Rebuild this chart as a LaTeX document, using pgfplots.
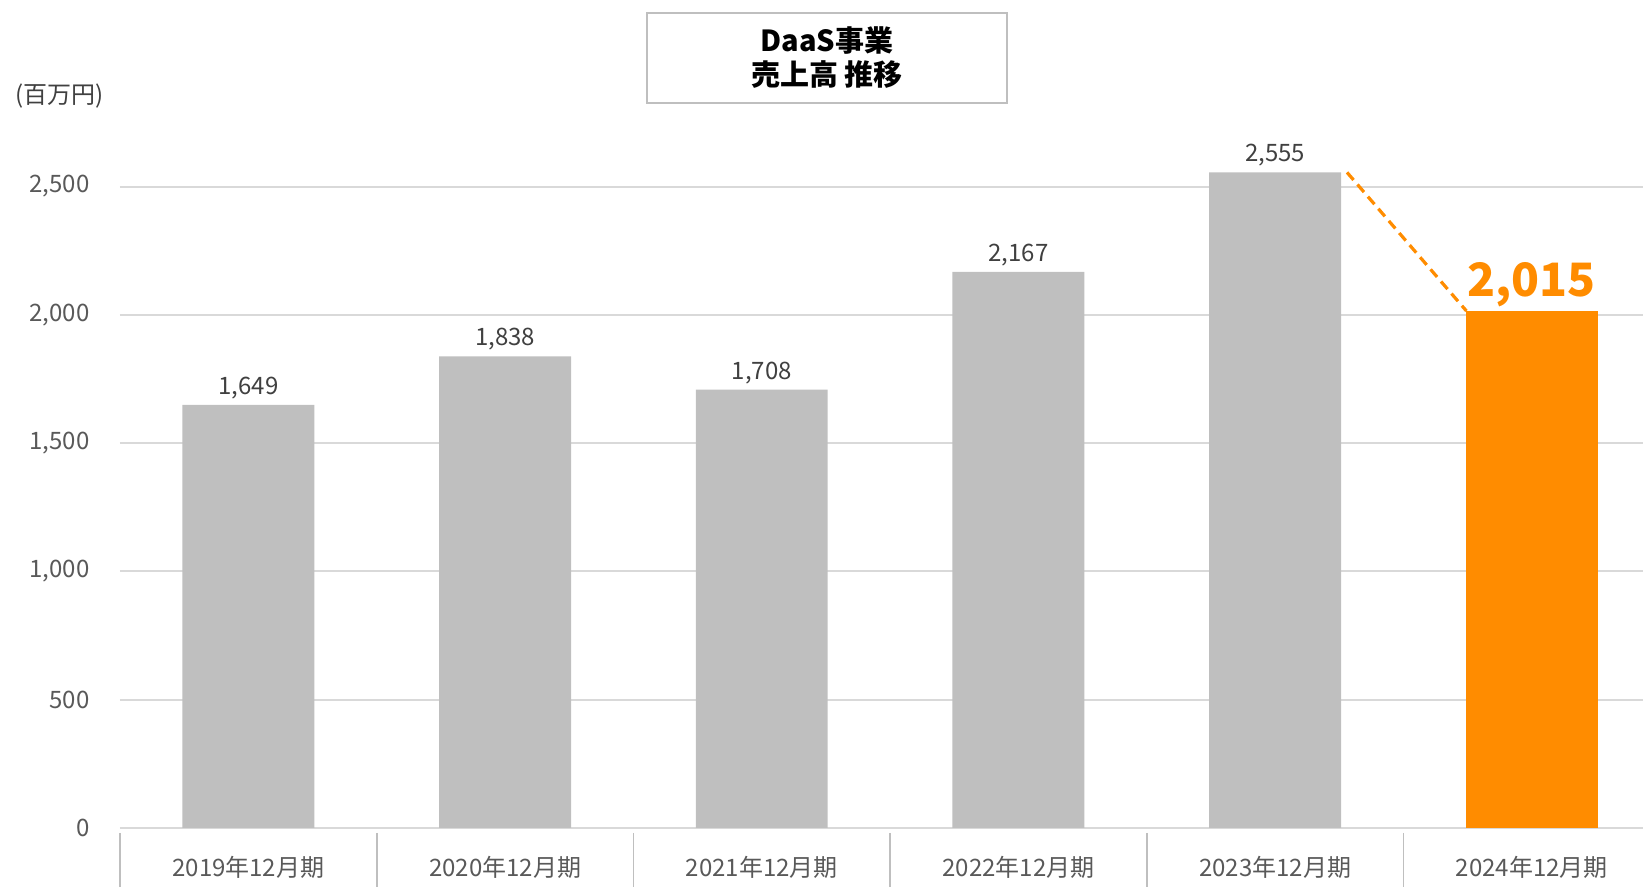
\documentclass[border=0pt]{standalone}
\usepackage{fontspec}
\setmainfont{Noto Sans CJK JP}
\usepackage{pgfplots}
\pgfplotsset{compat=1.18}
\definecolor{bargray}{HTML}{BFBFBF}
\definecolor{barorange}{HTML}{FF8C00}
\definecolor{gridgray}{HTML}{D9D9D9}
\definecolor{ticktext}{HTML}{595959}
\definecolor{labeltext}{HTML}{404040}
\begin{document}
\begin{tikzpicture}
\begin{axis}[
  name=ax, at={(0,0)}, anchor=south west,
  scale only axis, width=761.5pt, height=346.4pt,
  xmin=-0.5, xmax=5.433, ymin=0, ymax=2700,
  axis line style={draw=none},
  major tick length=0pt,
  xtick={0,1,2,3,4,5},
  xticklabels={2019年12月期,2020年12月期,2021年12月期,2022年12月期,2023年12月期,2024年12月期},
  ytick={0,500,1000,1500,2000,2500},
  scaled y ticks=false,
  ymajorgrids, grid style={gridgray, line width=1pt},
  /pgf/number format/1000 sep={,},
  /pgf/number format/assume math mode=true,
  tick label style={font=\fontsize{12}{14}\selectfont, text=ticktext},
  yticklabel style={anchor=east, inner sep=0pt, xshift=-15pt},
  xticklabel style={anchor=center, inner sep=0pt, yshift=-19.8pt},
  clip=false,
]
\addplot[ybar, bar width=0.514, bar shift=0pt, fill=bargray, draw=none,
  nodes near coords={\pgfmathprintnumber[fixed,precision=0,1000 sep={,},assume math mode=true]{\pgfplotspointmeta}},
  every node near coord/.append style={anchor=south, inner sep=0pt, yshift=5pt, text depth=0pt, font=\fontsize{12}{14}\selectfont, text=labeltext}]
  coordinates {(0,1649) (1,1838) (2,1708) (3,2167) (4,2555)};
\addplot[ybar, bar width=0.514, bar shift=0pt, fill=barorange, draw=none,
  nodes near coords={\pgfmathprintnumber[fixed,precision=0,1000 sep={,},assume math mode=true]{\pgfplotspointmeta}},
  every node near coord/.append style={anchor=south, inner sep=0pt, yshift=7pt, text depth=0pt, font=\bfseries\fontsize{23}{27}\selectfont, text=barorange}]
  coordinates {(5,2015)};
\addplot[barorange, line width=1.6pt, dash pattern=on 5pt off 3pt, mark=none]
  coordinates {(4.28,2555) (4.745,2015)};
\pgfplotsinvokeforeach{-0.5,0.5,1.5,2.5,3.5,4.5}{
  \draw[bargray, line width=0.8pt] ([yshift=-2.5pt]axis cs:#1,0) -- ([yshift=-29.5pt]axis cs:#1,0);
}
\end{axis}
\node[draw=bargray, line width=1pt, minimum width=180pt, minimum height=45pt, align=center,
  font=\bfseries\fontsize{14.5}{17}\selectfont, inner sep=0pt] at (353.5pt,385.2pt) {DaaS事業\\売上高 推移};
\node[anchor=west, inner sep=0pt, font=\fontsize{12}{14}\selectfont, text=labeltext] at (-52.6pt,365.8pt) {(百万円)};
\pgfresetboundingbox
\path[use as bounding box] (-60pt,-29.5pt) rectangle (761.5pt,414pt);
\end{tikzpicture}
\end{document}
